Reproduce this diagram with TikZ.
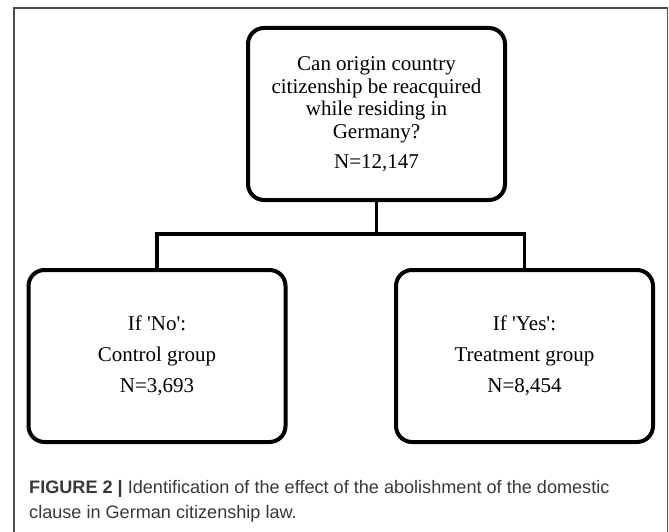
\documentclass[tikz,border=0pt]{standalone}
\usepackage{fontspec}
\setmainfont{Liberation Serif}
\newfontfamily\captionfont{Liberation Sans}
\usetikzlibrary{positioning}
\tikzset{>=stealth}
\tikzset{
  decision/.style={draw, line width=4pt, rounded corners=16pt,
    minimum width=257pt, minimum height=172pt, align=center,
    inner sep=0pt, font=\fontsize{21}{22.6}\selectfont},
  group/.style={decision, font=\fontsize{21}{31}\selectfont},
  branch/.style={line width=3.6pt},
  frame/.style={draw=black!70, line width=1.3pt},
  caption/.style={anchor=base west, inner sep=0pt, text=black!78,
    font=\captionfont\fontsize{18.1}{25}\selectfont},
}

\begin{document}
\begin{tikzpicture}[x=1pt, y=-1pt]
\useasboundingbox (0,0) rectangle (669,532);
\draw[frame] (14,532) -- (14,8) -- (667.5,8) -- (667.5,532);

\node[decision] (q) at (376.5,114) {Can origin country\\citizenship be reacquired\\while residing in\\Germany?\\[7.4pt]N=12,147};
\node[group] (no) at (157,356) {If \textquotesingle No\textquotesingle:\\Control group\\N=3,693};
\node[group] (yes) at (524.5,356) {If \textquotesingle Yes\textquotesingle:\\Treatment group\\N=8,454};

% split point of the tree
\coordinate (split) at (376.5,234);
\draw[branch] (q.south) -- (split);
\draw[branch] (no.north) |- (split) -| (yes.north);

\node[caption] (cap1) at (29,493) {\textbf{FIGURE 2 |} Identification of the effect of the abolishment of the domestic};
\node[caption] (cap2) at (29,518) {clause in German citizenship law.};
\end{tikzpicture}
\end{document}
